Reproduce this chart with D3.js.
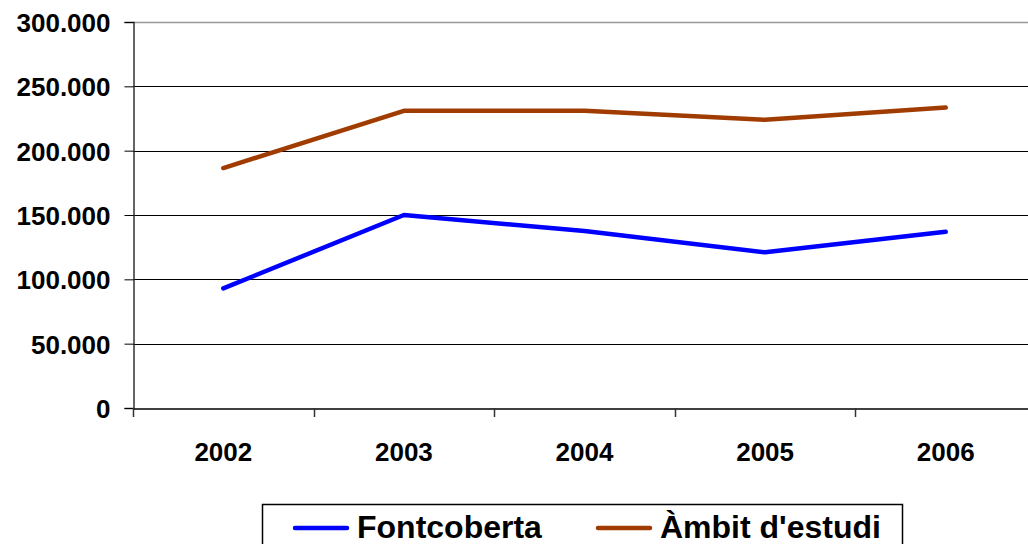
<!DOCTYPE html>
<html>
<head>
<meta charset="utf-8">
<script src="https://cdn.jsdelivr.net/npm/d3@7"></script>
<style>
  body { margin: 0; background: #fff; }
  text { font-family: "Liberation Sans", Arial, sans-serif; font-weight: bold; fill: #000; }
</style>
</head>
<body>
<div class="chart"></div>
<script>
// data
const years = ["2002", "2003", "2004", "2005", "2006"];
const fontcoberta = [93000, 150000, 137500, 121000, 137000];
const ambit = [186500, 231000, 231000, 224000, 233500];
const yTicks = [0, 50000, 100000, 150000, 200000, 250000, 300000];
const seriesNames = ["Fontcoberta", "Àmbit d'estudi"];
const seriesColors = ["#0000ff", "#a03c00"];

const wdth = 1028, hght = 544;
const plotLeft = 133, plotRight = 1036, plotTop = 22, plotBottom = 408;

const svg = d3.select(".chart")
  .append("svg")
  .attr("width", wdth)
  .attr("height", hght);

const x = d3.scaleBand()
  .domain(years)
  .range([plotLeft, plotRight]);

const y = d3.scaleLinear()
  .domain([0, 300000])
  .range([plotBottom, plotTop]);

const fmt = d => d3.format(",")(d).replace(/,/g, ".");

// gridlines
svg.append("g")
  .selectAll("line")
  .data(yTicks.filter(d => d > 0))
  .enter()
  .append("line")
  .attr("x1", plotLeft)
  .attr("x2", wdth)
  .attr("y1", d => Math.round(y(d)) + 0.5)
  .attr("y2", d => Math.round(y(d)) + 0.5)
  .attr("stroke", d => d === 300000 ? "#999" : "#000")
  .attr("stroke-width", d => d === 300000 ? 1.5 : 1);

// y axis
const yAxis = svg.append("g")
  .attr("transform", `translate(${plotLeft + 0.5},0)`)
  .call(d3.axisLeft(y).tickValues(yTicks).tickFormat(fmt).tickSize(9).tickPadding(14));
yAxis.select(".domain").attr("stroke", "#333").attr("stroke-width", 1.5);
yAxis.selectAll(".tick line").attr("stroke", "#000");
yAxis.selectAll("text")
  .style("font-size", "26px")
  .attr("dy", "0.36em");

// x axis
const xAxis = svg.append("g")
  .attr("transform", `translate(0,${plotBottom + 0.5})`)
  .call(d3.axisBottom(x).tickSize(0).tickPadding(34));
xAxis.select(".domain").attr("stroke", "#000").attr("stroke-width", 1.5);
xAxis.selectAll("text").style("font-size", "26px");

// category boundary ticks
svg.append("g")
  .selectAll("line")
  .data(years)
  .enter()
  .append("line")
  .attr("x1", d => Math.round(x(d)) + 0.5)
  .attr("x2", d => Math.round(x(d)) + 0.5)
  .attr("y1", plotBottom)
  .attr("y2", plotBottom + 9)
  .attr("stroke", "#333")
  .attr("stroke-width", 1.5);

// lines
const line = d3.line()
  .x((d, i) => x(years[i]) + x.bandwidth() / 2)
  .y(d => y(d));

[fontcoberta, ambit].forEach((s, i) => {
  svg.append("path")
    .datum(s)
    .attr("fill", "none")
    .attr("stroke", seriesColors[i])
    .attr("stroke-width", 4.5)
    .attr("stroke-linecap", "round")
    .attr("stroke-linejoin", "round")
    .attr("d", line);
});

// legend
const legend = svg.append("g");
legend.append("rect")
  .attr("x", 262.5)
  .attr("y", 504.5)
  .attr("width", 640)
  .attr("height", 60)
  .attr("fill", "#fff")
  .attr("stroke", "#000")
  .attr("stroke-width", 1.5);

const legendX = [295, 598];
seriesNames.forEach((n, i) => {
  legend.append("line")
    .attr("x1", legendX[i])
    .attr("x2", legendX[i] + 52)
    .attr("y1", 528)
    .attr("y2", 528)
    .attr("stroke", seriesColors[i])
    .attr("stroke-width", 4.5)
    .attr("stroke-linecap", "round");
  legend.append("text")
    .attr("x", legendX[i] + 62)
    .attr("y", 538)
    .style("font-size", "32px")
    .text(n);
});
</script>
</body>
</html>
